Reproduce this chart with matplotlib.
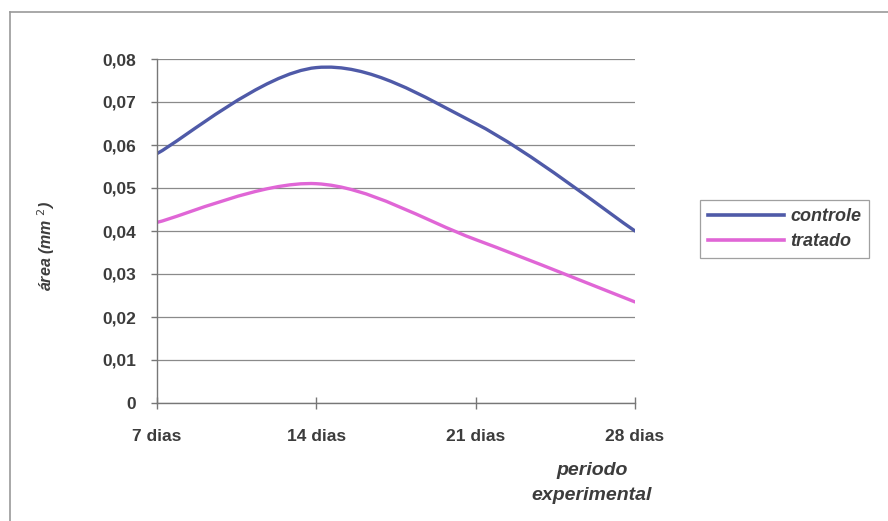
import matplotlib
matplotlib.use("Agg")
import matplotlib.pyplot as plt
from matplotlib.path import Path
from matplotlib.patches import PathPatch
from matplotlib.lines import Line2D
import numpy as np

categorias = ['7 dias', '14 dias', '21 dias', '28 dias']
controle = [0.058, 0.078, 0.065, 0.040]
tratado = [0.042, 0.051, 0.038, 0.0235]
yticks = [0, 0.01, 0.02, 0.03, 0.04, 0.05, 0.06, 0.07, 0.08]

cor_controle = '#4f5aa8'
cor_tratado = '#e066d6'
cor_texto = '#3c3c3c'


def smooth_path(y):
    # bezier smoothing through the points, like excel's "smoothed line"
    x = np.arange(len(y), dtype=float)
    p = np.column_stack([x, y])
    verts = [p[0]]
    codes = [Path.MOVETO]
    n = len(p)
    for i in range(n - 1):
        p_prev = p[i - 1] if i > 0 else p[i]
        p_next2 = p[i + 2] if i + 2 < n else p[i + 1]
        c1 = p[i] + (p[i + 1] - p_prev) / 6
        c2 = p[i + 1] - (p_next2 - p[i]) / 6
        verts += [c1, c2, p[i + 1]]
        codes += [Path.CURVE4] * 3
    return Path(verts, codes)


fig = plt.figure(figsize=(8.88, 5.21), dpi=100)
ax = fig.add_axes([157 / 888, 1 - 403 / 521, 478 / 888, 344 / 521])

for y, cor in [(controle, cor_controle), (tratado, cor_tratado)]:
    ax.add_patch(PathPatch(smooth_path(y), facecolor='none', edgecolor=cor,
                           lw=2.4, capstyle='round', joinstyle='round'))

ax.set_xlim(0, 3)
ax.set_ylim(0, 0.08)
ax.set_yticks(yticks)
ax.set_yticklabels(['0'] + [('%.2f' % v).replace('.', ',') for v in yticks[1:]])
ax.set_xticks(range(len(categorias)))
ax.set_xticklabels(categorias)

ax.grid(axis='y', color='#8a8a8a', lw=0.9)
ax.set_axisbelow(True)
for s in ['top', 'right']:
    ax.spines[s].set_visible(False)
for s in ['left', 'bottom']:
    ax.spines[s].set_color('#777777')
    ax.spines[s].set_linewidth(1.0)

ax.tick_params(axis='y', direction='out', length=4, width=1, color='#777777',
               pad=11, labelsize=12.5, labelcolor=cor_texto)
ax.tick_params(axis='x', direction='inout', length=8, width=1, color='#777777',
               pad=15, labelsize=12.5, labelcolor=cor_texto)
for t in ax.get_xticklabels() + ax.get_yticklabels():
    t.set_fontweight('bold')
    t.set_family('Liberation Sans')

fig.text(46 / 888, 1 - 246 / 521, 'área (mm $^{2}$)', rotation=90, ha='center', va='center',
         fontsize=11.5, fontstyle='italic', fontweight='bold', color=cor_texto,
         family='Liberation Sans')
fig.text(592 / 888, 1 - 483 / 521, 'periodo\nexperimental', ha='center', va='center',
         fontsize=14, fontstyle='italic', fontweight='bold', color=cor_texto,
         family='Liberation Sans', linespacing=1.6)

handles = [Line2D([], [], color=cor_controle, lw=2.6),
           Line2D([], [], color=cor_tratado, lw=2.6)]
leg = fig.legend(handles, ['controle', 'tratado'], loc='upper left',
                 bbox_to_anchor=(700 / 888, 1 - 200 / 521), frameon=True, fancybox=False,
                 handlelength=4.2, handletextpad=0.35, borderpad=0.45, labelspacing=0.45,
                 borderaxespad=0,
                 prop={'family': 'Liberation Sans', 'style': 'italic', 'weight': 'bold', 'size': 13})
leg.get_frame().set_edgecolor('#888888')
leg.get_frame().set_linewidth(0.9)
for t in leg.get_texts():
    t.set_color(cor_texto)

# outer chart frame (only left and top edges are inside the scan)
fig.add_artist(Line2D([10 / 888, 10 / 888], [0, 1 - 12 / 521], color='#9a9a9a', lw=1.2,
                      transform=fig.transFigure))
fig.add_artist(Line2D([10 / 888, 1], [1 - 12 / 521, 1 - 12 / 521], color='#9a9a9a', lw=1.2,
                      transform=fig.transFigure))

fig.savefig('out.png', dpi=100)
